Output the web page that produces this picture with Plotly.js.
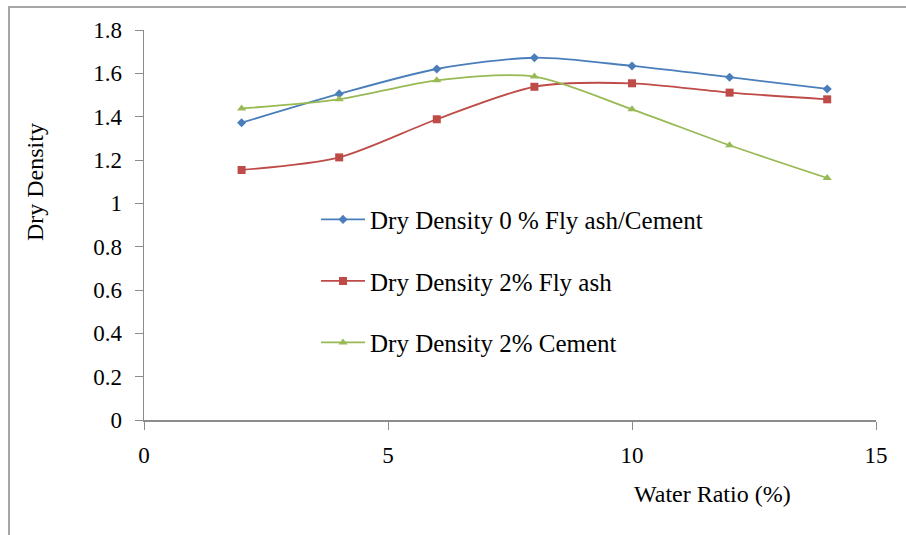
<!DOCTYPE html>
<html>
<head>
<meta charset="utf-8">
<script src="https://cdn.plot.ly/plotly-3.0.1.min.js"></script>
<style>
html,body{margin:0;padding:0;background:#fff;}
#frame{position:absolute;left:8px;top:6px;width:898px;height:529px;border-top:2px solid #a6a6a6;border-left:2px solid #a6a6a6;box-sizing:border-box;}
#chart{position:absolute;left:0;top:0;width:906px;height:535px;}
</style>
</head>
<body>
<div id="frame"></div>
<div id="chart"></div>
<script>
const waterRatio = [2, 4, 6, 8, 10, 12, 14];
const dd0 = [1.372, 1.505, 1.620, 1.672, 1.634, 1.582, 1.528];
const ddFlyAsh = [1.154, 1.212, 1.388, 1.538, 1.554, 1.511, 1.480];
const ddCement = [1.438, 1.480, 1.568, 1.585, 1.434, 1.268, 1.117];
const seriesNames = ['Dry Density 0 % Fly ash/Cement', 'Dry Density 2% Fly ash', 'Dry Density 2% Cement'];
const xTicks = [0, 5, 10, 15];
const yTicks = [0, 0.2, 0.4, 0.6, 0.8, 1, 1.2, 1.4, 1.6, 1.8];
const yTickText = ['0', '0.2', '0.4', '0.6', '0.8', '1', '1.2', '1.4', '1.6', '1.8'];

const font = 'Liberation Serif, Times New Roman, serif';
function tr(y, name, color, symbol, size, grp){
  return {x: waterRatio, y: y, name: name, type: 'scatter', mode: 'lines+markers',
    line: {color: color, width: 1.8, shape: 'spline', smoothing: 0.8},
    marker: {color: color, symbol: symbol, size: size}, legendgroup: grp};
}
const data = [
  tr(dd0, seriesNames[0], '#4a7ebb', 'diamond', 7, 'a'),
  tr(ddFlyAsh, seriesNames[1], '#be4b48', 'square', 8, 'b'),
  tr(ddCement, seriesNames[2], '#98b954', 'triangle-up', 8, 'c')
];
const layout = {
  width: 906, height: 535,
  paper_bgcolor: 'rgba(0,0,0,0)', plot_bgcolor: 'rgba(0,0,0,0)',
  margin: {l: 144, r: 30, t: 30, b: 115},
  font: {family: font, size: 23, color: '#000'},
  showlegend: true,
  legend: {x: 0.235, y: 0.356, xanchor: 'left', yanchor: 'middle', bgcolor: 'rgba(0,0,0,0)',
    font: {family: font, size: 25}, traceorder: 'grouped', tracegroupgap: 26, itemwidth: 44},
  xaxis: {range: [0, 15], tickvals: xTicks, ticktext: xTicks.map(String), showgrid: false, zeroline: false,
    showline: true, linecolor: '#8c8c8c', linewidth: 1.5, ticks: 'outside', ticklen: 8, tickcolor: '#8c8c8c',
    ticklabelstandoff: 6, tickfont: {family: font, size: 23}, fixedrange: true},
  yaxis: {range: [0, 1.8], tickvals: yTicks, ticktext: yTickText, showgrid: false, zeroline: false,
    showline: true, linecolor: '#8c8c8c', linewidth: 1.5, ticks: 'outside', ticklen: 8, tickcolor: '#8c8c8c',
    ticklabelstandoff: 8, tickfont: {family: font, size: 23}, fixedrange: true},
  annotations: [
    {text: 'Dry Density', xref: 'paper', yref: 'paper', x: -0.149, y: 0.61, textangle: -90,
      showarrow: false, font: {family: font, size: 24}, xanchor: 'center', yanchor: 'middle'},
    {text: 'Water Ratio (%)', xref: 'paper', yref: 'paper', x: 0.777, y: -0.19,
      showarrow: false, font: {family: font, size: 24}, xanchor: 'center', yanchor: 'middle'}
  ]
};
Plotly.newPlot('chart', data, layout, {displayModeBar: false, staticPlot: true});
</script>
</body>
</html>
